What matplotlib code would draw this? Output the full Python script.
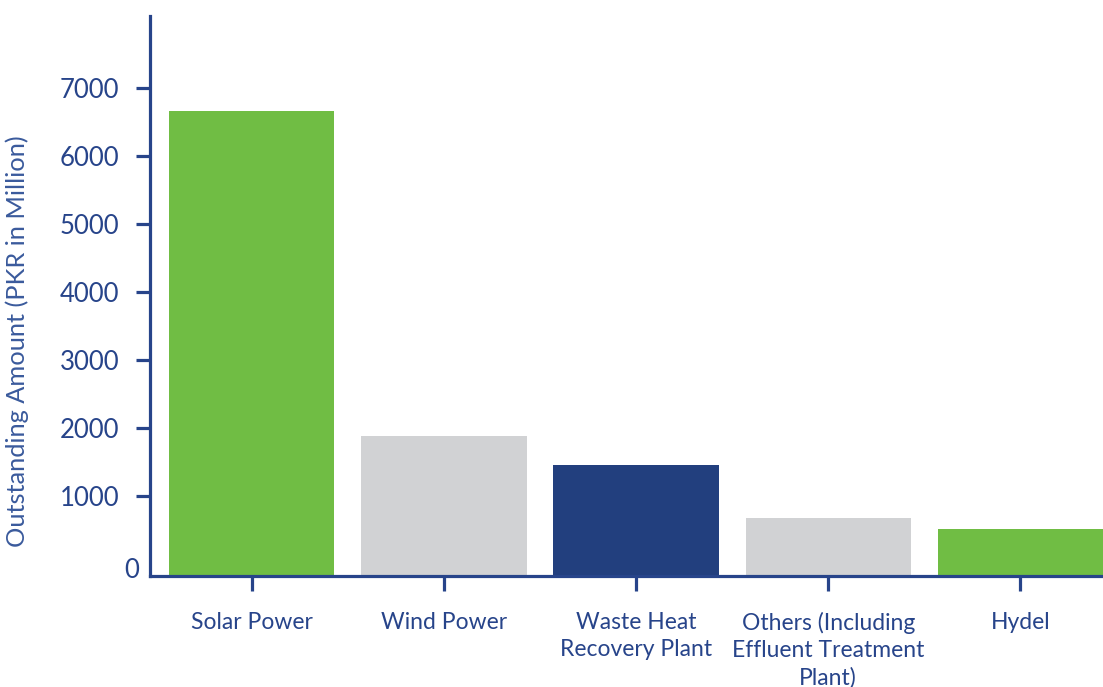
import numpy as np
import matplotlib
matplotlib.use("Agg")
import matplotlib.pyplot as plt

# data
categories = ["Solar Power", "Wind Power", "Waste Heat\nRecovery Plant",
              "Others (Including\nEffluent Treatment\nPlant)", "Hydel"]
amounts = [6660, 1880, 1460, 670, 520]
bar_colors = ["#70bd44", "#d1d2d4", "#223f7e", "#d1d2d4", "#70bd44"]
y_ticks = [1000, 2000, 3000, 4000, 5000, 6000, 7000]

navy = "#27448a"
plt.rcParams['font.family'] = ['Lato', 'DejaVu Sans']

fig = plt.figure(figsize=(11.03, 6.87), dpi=100)
ax = fig.add_axes([0.136, 0.1616, 0.864, 0.8151])

# axis baseline sits a bit below zero in the original
y0 = -176
x = np.arange(len(categories))
vals = np.array(amounts) - y0
ax.bar(x, vals, bottom=y0, width=0.86, color=bar_colors, zorder=2)

ax.set_xlim(-0.53, 4.43)
ax.set_ylim(y0, 8060)

ax.set_yticks(y_ticks)
ax.set_yticklabels([str(t) for t in y_ticks])
ax.set_xticks(x)
ax.set_xticklabels(categories, linespacing=1.33)

# "0" has no tick mark and sits near the baseline, closer to the axis
ax.text(-0.011, -100, "0", transform=ax.get_yaxis_transform(),
        ha="right", va="center", fontsize=18.5, color=navy)

for s in ["top", "right"]:
    ax.spines[s].set_visible(False)
for s in ["left", "bottom"]:
    ax.spines[s].set_color(navy)
    ax.spines[s].set_linewidth(2.3)
    ax.spines[s].set_zorder(3)

ax.tick_params(axis="y", colors=navy, length=10, width=2.3, pad=12, labelsize=18.5)
ax.tick_params(axis="x", colors=navy, length=11, width=2.3, pad=15, labelsize=16.5)

ax.set_ylabel("Outstanding Amount (PKR in Million)", color="#3a5a9c", fontsize=18.3)
ax.yaxis.set_label_coords(-0.127, 0.42)

fig.savefig("out.png", dpi=100)
